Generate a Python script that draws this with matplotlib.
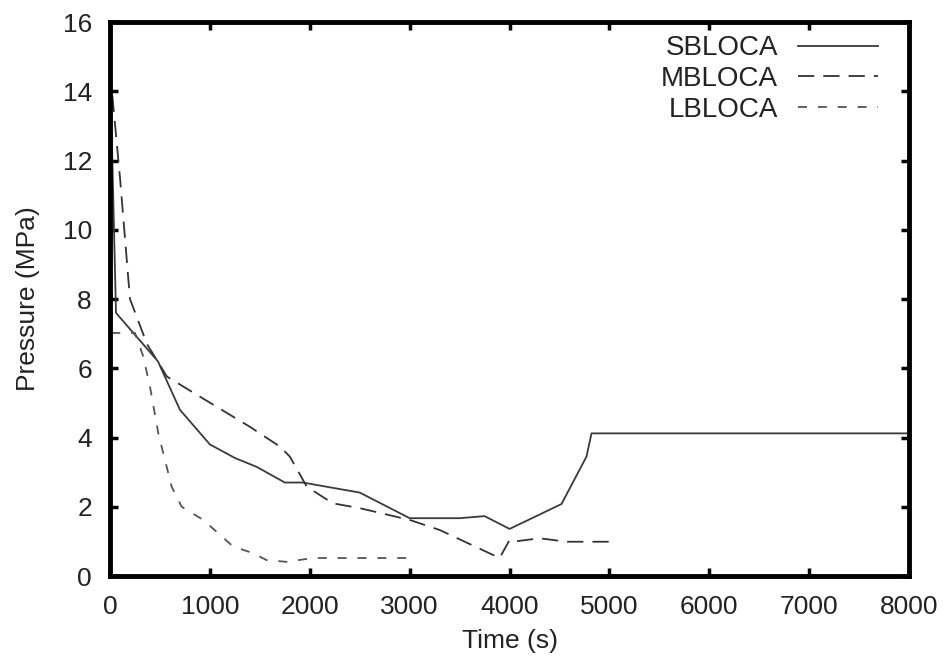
import numpy as np
import matplotlib.pyplot as plt

plt.rcParams['font.family'] = ['Liberation Sans', 'DejaVu Sans']

# SBLOCA (solid)
sb_t = [0, 60, 480, 700, 1000, 1250, 1470, 1750, 1930, 2500, 3000, 3500, 3750, 4000, 4520, 4770, 4820, 8000]
sb_p = [14.8, 7.6, 6.2, 4.8, 3.8, 3.41, 3.15, 2.7, 2.7, 2.41, 1.67, 1.67, 1.73, 1.36, 2.08, 3.45, 4.12, 4.12]

# MBLOCA (long dash)
mb_t = [0, 100, 200, 370, 570, 900, 1400, 1700, 1800, 1970, 2230, 2500, 3000, 3300, 3900, 4000, 4030, 4300, 4570, 5000]
mb_p = [14.6, 11.5, 8.0, 6.7, 5.76, 5.18, 4.31, 3.74, 3.45, 2.58, 2.1, 1.96, 1.62, 1.33, 0.52, 1.04, 0.99, 1.09, 0.99, 0.99]

# LBLOCA (short dash)
lb_t = [0, 20, 250, 333, 400, 483, 617, 717, 933, 1233, 1433, 1567, 1767, 2033, 3000]
lb_p = [14.5, 7.02, 7.02, 6.34, 5.47, 4.13, 2.58, 2.0, 1.62, 0.85, 0.66, 0.46, 0.41, 0.52, 0.52]

fig = plt.figure(figsize=(9.5, 6.68), dpi=100)
ax = fig.add_axes([0.1158, 0.1377, 0.8412, 0.8293])

ax.plot(sb_t, sb_p, color='#3a3a3a', lw=1.3, label='SBLOCA')
ax.plot(mb_t, mb_p, color='#333333', lw=1.3, dashes=(9, 5), label='MBLOCA')
ax.plot(lb_t, lb_p, color='#555555', lw=1.3, dashes=(5, 6), label='LBLOCA')

ax.set_xlim(0, 8000)
ax.set_ylim(0, 16)
ax.set_xticks(np.arange(0, 8001, 1000))
ax.set_yticks(np.arange(0, 17, 2))
ax.tick_params(direction='in', length=6, width=2.5, labelsize=19, top=True, right=True,
               labelcolor='#222222')
ax.tick_params(axis='x', pad=14)
ax.tick_params(axis='y', pad=13)
for s in ax.spines.values():
    s.set_linewidth(3.5)

ax.set_xlabel('Time (s)', fontsize=19, labelpad=7, color='#222222')
ax.set_ylabel('Pressure (MPa)', fontsize=19, labelpad=16, color='#222222')

ax.legend(loc='upper right', frameon=False, markerfirst=False, fontsize=20,
          handlelength=2.9, handletextpad=0.7, labelspacing=0.17,
          borderaxespad=0.6, labelcolor='#222222',
          bbox_to_anchor=(0.996, 1.026))

fig.savefig('out.png', dpi=100)
